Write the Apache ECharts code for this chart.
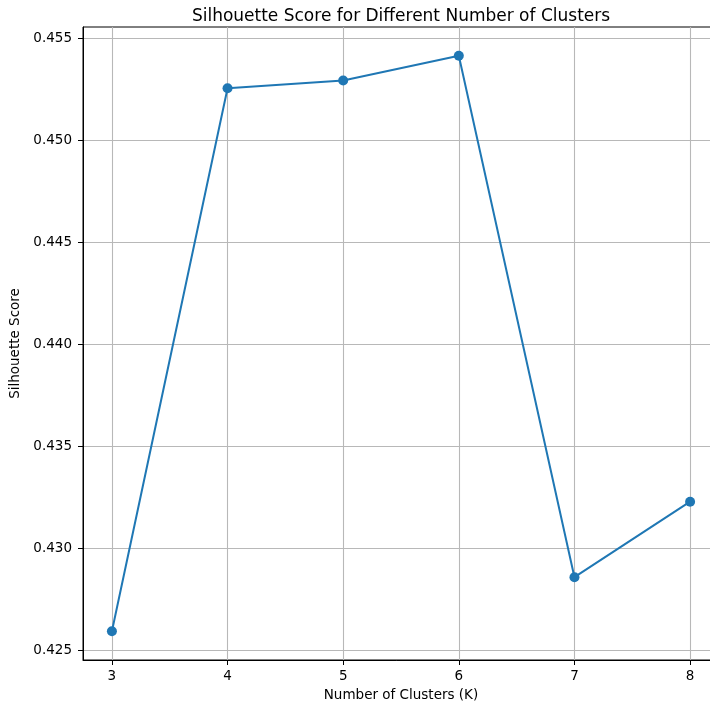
<!DOCTYPE html>
<html>
<head>
<meta charset="utf-8">
<script src="https://cdn.jsdelivr.net/npm/echarts@6/dist/echarts.min.js"></script>
<style>html,body{margin:0;padding:0;background:#fff}#c{width:710px;height:708px}</style>
</head>
<body>
<div id="c"></div>
<script>
const clusters = [3, 4, 5, 6, 7, 8];
const scores = [0.42594, 0.45256, 0.45294, 0.45415, 0.42859, 0.43229];
const yTicks = [0.425, 0.430, 0.435, 0.440, 0.445, 0.450, 0.455];
const xTicks = [3, 4, 5, 6, 7, 8];
const titleText = 'Silhouette Score for Different Number of Clusters';
const xName = 'Number of Clusters (K)';
const yName = 'Silhouette Score';

const font = 'DejaVu Sans';
const chart = echarts.init(document.getElementById('c'), null, {renderer: 'canvas'});
chart.setOption({
  animation: false,
  backgroundColor: '#fff',
  title: {
    text: titleText,
    left: 396, top: 3, textAlign: 'center',
    textStyle: {fontFamily: font, fontSize: 17, fontWeight: 'normal', color: '#000'}
  },
  grid: {
    left: 83, top: 27, width: 636, height: 633,
    outerBoundsMode: 'none', containLabel: false,
    show: true, borderColor: '#000', borderWidth: 1, backgroundColor: 'transparent'
  },
  xAxis: {
    type: 'value', min: 2.75, max: 8.25,
    name: xName, nameLocation: 'middle', nameGap: 28,
    nameTextStyle: {fontFamily: font, fontSize: 13.5, color: '#000'},
    axisLine: {show: true, onZero: false, lineStyle: {color: '#000', width: 1}},
    axisTick: {show: true, inside: false, length: 5, customValues: xTicks, lineStyle: {color: '#000', width: 1}},
    axisLabel: {customValues: xTicks, margin: 9, fontFamily: font, fontSize: 13.5, color: '#000'},
    splitLine: {show: true, lineStyle: {color: '#b8b8b8', width: 1.1}}
  },
  yAxis: {
    type: 'value', min: 0.42453, max: 0.45556,
    name: yName, nameLocation: 'middle', nameGap: 53, nameRotate: 90,
    nameTextStyle: {fontFamily: font, fontSize: 13.5, color: '#000'},
    axisLine: {show: true, onZero: false, lineStyle: {color: '#000', width: 1}},
    axisTick: {show: true, inside: false, length: 5, customValues: yTicks, lineStyle: {color: '#000', width: 1}},
    axisLabel: {customValues: yTicks, margin: 11, fontFamily: font, fontSize: 13.5, color: '#000',
      formatter: v => v.toFixed(3)},
    splitLine: {show: true, lineStyle: {color: '#b8b8b8', width: 1.1}}
  },
  series: [{
    type: 'line',
    data: clusters.map((k, i) => [k, scores[i]]),
    symbol: 'circle', symbolSize: 10,
    itemStyle: {color: '#1f77b4'},
    lineStyle: {color: '#1f77b4', width: 2},
    z: 5
  }]
});
</script>
</body>
</html>
